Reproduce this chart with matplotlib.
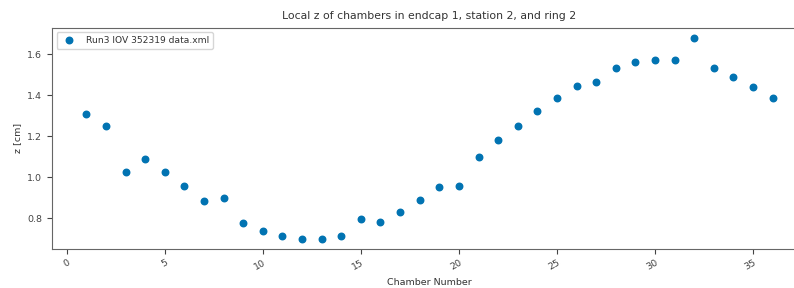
import matplotlib
matplotlib.use('Agg')
import matplotlib.pyplot as plt

# chamber numbers and local z values
chambers = list(range(1, 37))
z_values = [1.31, 1.25, 1.025, 1.09, 1.025, 0.955, 0.885, 0.90, 0.775, 0.735,
            0.71, 0.70, 0.70, 0.71, 0.795, 0.78, 0.83, 0.89, 0.95, 0.955,
            1.10, 1.18, 1.25, 1.32, 1.385, 1.445, 1.465, 1.53, 1.56, 1.57,
            1.57, 1.68, 1.53, 1.49, 1.44, 1.385]
label = 'Run3 IOV 352319 data.xml'

fig = plt.figure(figsize=(7.94, 2.88), dpi=100)
ax = fig.add_axes([52 / 794, 0.137, 755 / 794, 0.767])

ax.scatter(chambers, z_values, s=22, color='#0173b2', label=label, zorder=3)

ax.set_title('Local z of chambers in endcap 1, station 2, and ring 2', fontsize=7.8, color='#333333')
ax.set_xlabel('Chamber Number', fontsize=6.8, color='#333333')
ax.set_ylabel('z [cm]', fontsize=6.8, color='#333333')
ax.set_xticks([0, 5, 10, 15, 20, 25, 30, 35])
ax.set_yticks([0.8, 1.0, 1.2, 1.4, 1.6])
ax.tick_params(labelsize=6.8, colors='#444444')
plt.setp(ax.get_xticklabels(), rotation=30, ha='right', rotation_mode='anchor')
for sp in ax.spines.values():
    sp.set_color('#666666')
ax.spines['right'].set_visible(False)

ax.legend(loc='upper left', fontsize=6.6, framealpha=0.8, labelcolor='#333333')

fig.savefig('out.png', dpi=100)
